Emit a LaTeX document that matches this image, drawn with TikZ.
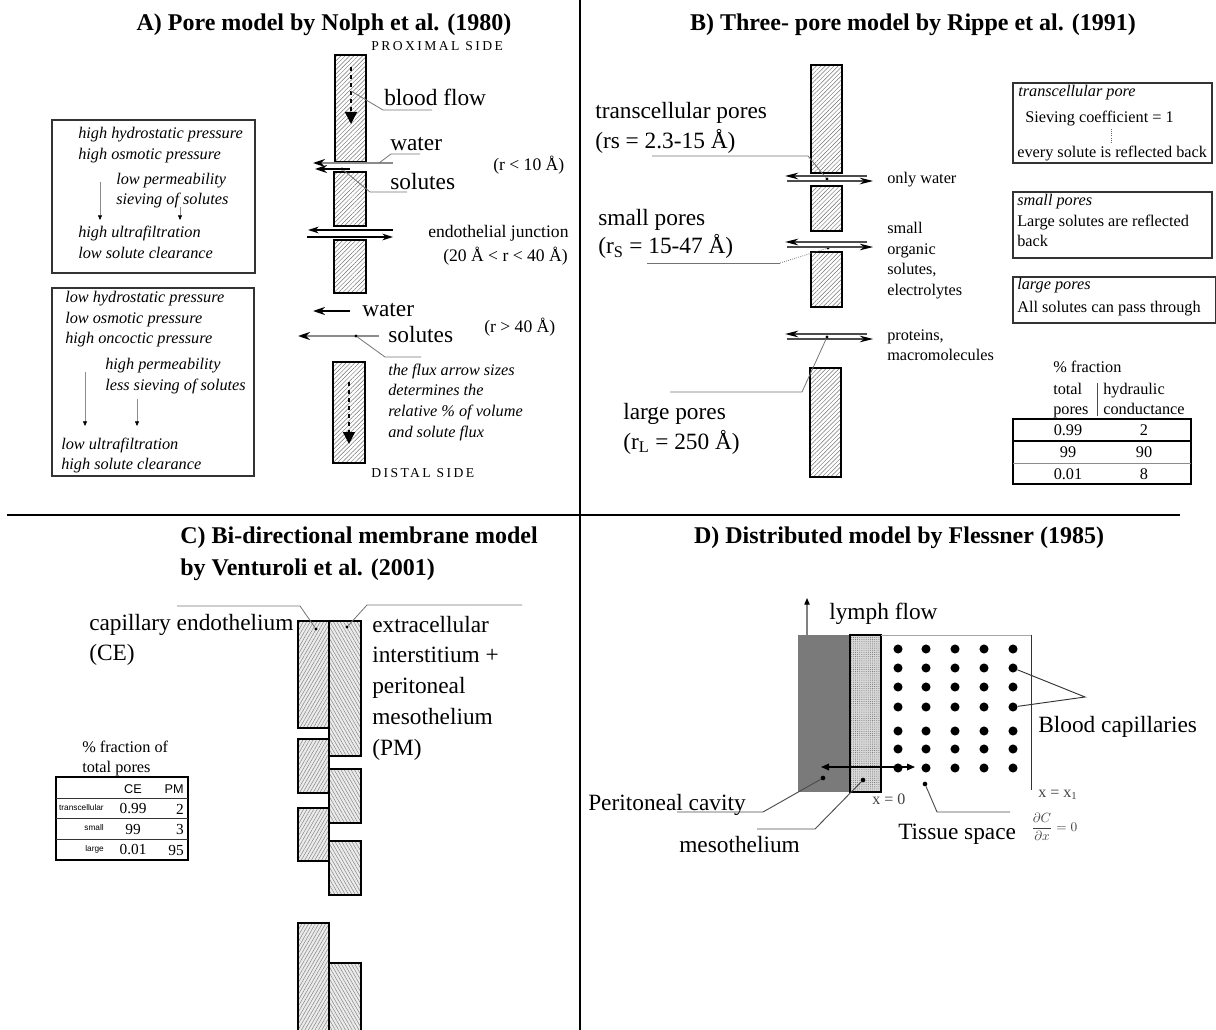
\documentclass[tikz,border=0pt]{standalone}
\usepackage{fontspec}
\setmainfont{Liberation Serif}
\setsansfont{Liberation Sans}
\usetikzlibrary{patterns,patterns.meta,arrows.meta}
\begin{document}
\begin{tikzpicture}[x=0.75pt,y=-0.75pt,
  ttl/.style={font=\fontsize{18}{21}\selectfont\bfseries, inner sep=0pt},
  lbl/.style={font=\fontsize{17.5}{20}\selectfont, inner sep=0pt},
  sml/.style={font=\fontsize{13.2}{15}\selectfont, inner sep=0pt},
  itl/.style={font=\fontsize{12.2}{14}\selectfont\itshape, inner sep=0pt},
  side/.style={font=\fontsize{12.2}{14}\selectfont, inner sep=0pt},
  caps/.style={font=\fontsize{10.2}{12}\selectfont\addfontfeature{LetterSpace=18}, inner sep=0pt},
  tinys/.style={font=\sffamily\fontsize{6.2}{7}\selectfont, inner sep=0pt},
  tabs/.style={font=\sffamily\fontsize{9.5}{11}\selectfont, inner sep=0pt},
  tabn/.style={font=\fontsize{11.5}{13}\selectfont, inner sep=0pt},
  hatch/.style={draw=black, line width=1pt, preaction={fill=white}, pattern={Lines[angle=45,distance=2.3pt,line width=0.35pt]}, pattern color=black!55},
  hatchce/.style={draw=black, line width=1pt, preaction={fill=black!8}, pattern={Lines[angle=60,distance=2.2pt,line width=0.35pt]}, pattern color=black!50},
  hatchpm/.style={draw=black, line width=1pt, preaction={fill=black!8}, pattern={Lines[angle=120,distance=2.2pt,line width=0.35pt]}, pattern color=black!50},
  flux/.style={draw=black!45, line width=1.3pt, -{Stealth[length=9pt,width=6pt,color=black]}},
  fluxk/.style={draw=black, line width=1.1pt, -{Stealth[length=9pt,width=6pt]}},
  jarr/.style={draw=black, line width=1pt, -{Stealth[length=8pt,width=5pt]}},
  barr/.style={draw=black!70, line width=0.9pt, -{Stealth[length=10pt,width=5pt,color=black]}},
  ldr/.style={draw=black!55, line width=0.6pt},
  garr/.style={draw=black!45, line width=0.5pt, -{Triangle[length=3.5pt,width=3pt,color=black]}},
  dotm/.style={circle, fill=black, inner sep=0pt, minimum size=2.6pt},
  capd/.style={circle, fill=black, inner sep=0pt, minimum size=6.8pt},
  boxl/.style={draw=black!80, line width=0.8pt},
  flowarr/.style={draw=black, line width=1pt, dashed, -{Triangle[length=9pt,width=9pt]}}
]
\useasboundingbox (0,0) rectangle (1216,1030);

% dividers
\draw[line width=1.3pt] (580,0) -- (580,1030);
\draw[line width=2.2pt] (7,515) -- (1180,515);

% ================= Panel A =================
\node[ttl, anchor=base] (tA) at (324,31) {A) Pore model by Nolph et al. (1980)};
\node[caps, anchor=base west] (prox) at (371,51) {PROXIMAL SIDE};
\draw[hatch] (335,55) rectangle (366,162);
\draw[hatch] (334,172) rectangle (366,226);
\draw[hatch] (334,240) rectangle (366,293);
\draw[hatch] (333,362) rectangle (365,463);
\coordinate (bf1) at (351,67); \coordinate (bf2) at (351,124);
\draw[flowarr] (bf1) -- (bf2);
\coordinate (bf3) at (349,382); \coordinate (bf4) at (349,444);
\draw[flowarr] (bf3) -- (bf4);
\node[caps, anchor=base west] (dist) at (371,477) {DISTAL SIDE};

\node[lbl, anchor=base west] (blood) at (384,106) {blood flow};
\coordinate (bl0) at (351,91); \coordinate (bl1) at (383,110); \coordinate (bl2) at (432,110);
\draw[ldr] (bl0) -- (bl1) -- (bl2);

\node[lbl, anchor=base west] (water1) at (390,151) {water};
\coordinate (w1a) at (393,163); \coordinate (w1b) at (313,163);
\draw[flux] (w1a) -- (w1b);
\coordinate (wl0) at (379,163); \coordinate (wl1) at (391,154); \coordinate (wl2) at (420,154);
\draw[ldr] (wl0) -- (wl1) -- (wl2);
\coordinate (s1a) at (350,169); \coordinate (s1b) at (315,169);
\draw[fluxk] (s1a) -- (s1b);
\node[dotm] (s1d) at (342,169) {};
\node[lbl, anchor=base west] (sol1) at (390,190) {solutes};
\coordinate (sl1) at (370,192); \coordinate (sl2) at (407,192);
\draw[ldr] (s1d) -- (sl1) -- (sl2);
\node[sml, anchor=base west] (r10) at (493,171) {(r \textless{} 10 Å)};

\coordinate (ja1) at (393,230); \coordinate (ja2) at (308,230);
\coordinate (jb1) at (307,237); \coordinate (jb2) at (393,237);
\draw[jarr] (ja1) -- (ja2);
\draw[jarr] (jb1) -- (jb2);
\node[sml, anchor=base west] (ej) at (428,238) {endothelial junction};
\node[sml, anchor=base west] (r2040) at (443,262) {(20 Å \textless{} r \textless{} 40 Å)};

\node[lbl, anchor=base west] (water2) at (362,316) {water};
\coordinate (w2a) at (350,311); \coordinate (w2b) at (313,311);
\draw[fluxk] (w2a) -- (w2b);
\node[lbl, anchor=base west] (sol2) at (388,342) {solutes};
\coordinate (s2a) at (379,336); \coordinate (s2b) at (298,336);
\draw[flux] (s2a) -- (s2b);
\node[dotm] (s2d) at (356,336) {};
\coordinate (s2l1) at (385,357); \coordinate (s2l2) at (421,357);
\draw[ldr] (s2d) -- (s2l1) -- (s2l2);
\node[sml, anchor=base west] (r40) at (484,333) {(r \textgreater{} 40 Å)};
\node[itl, anchor=base west] (fx1) at (388,375) {the flux arrow sizes};
\node[itl, anchor=base west] (fx2) at (388,395) {determines the};
\node[itl, anchor=base west] (fx3) at (388,416) {relative \% of volume};
\node[itl, anchor=base west] (fx4) at (388,437) {and solute flux};

% left boxes
\draw[boxl] (52,120) rectangle (255,273);
\node[itl, anchor=base west] (a1) at (78,139) {high hydrostatic pressure};
\node[itl, anchor=base west] (a2) at (78,160) {high osmotic pressure};
\node[itl, anchor=base west] (a3) at (116,185) {low permeability};
\node[itl, anchor=base west] (a4) at (116,205) {sieving of solutes};
\node[itl, anchor=base west] (a5) at (78,238) {high ultrafiltration};
\node[itl, anchor=base west] (a6) at (78,259) {low solute clearance};
\coordinate (aa1) at (100,182); \coordinate (aa2) at (100,220);
\coordinate (ab1) at (180,207); \coordinate (ab2) at (180,220);
\draw[garr] (aa1) -- (aa2);
\draw[garr] (ab1) -- (ab2);

\draw[boxl] (52,288) rectangle (254,476);
\node[itl, anchor=base west] (b1) at (65,303) {low hydrostatic pressure};
\node[itl, anchor=base west] (b2) at (65,324) {low osmotic pressure};
\node[itl, anchor=base west] (b3) at (65,344) {high oncoctic pressure};
\node[itl, anchor=base west] (b4) at (105,369) {high permeability};
\node[itl, anchor=base west] (b5) at (105,390) {less sieving of solutes};
\node[itl, anchor=base west] (b6) at (61,449) {low ultrafiltration};
\node[itl, anchor=base west] (b7) at (61,469) {high solute clearance};
\coordinate (ba1) at (85,372); \coordinate (ba2) at (85,426);
\coordinate (bb1) at (137,399); \coordinate (bb2) at (137,426);
\draw[garr] (ba1) -- (ba2);
\draw[garr] (bb1) -- (bb2);

% ================= Panel B =================
\node[ttl, anchor=base] (tB) at (913,31) {B) Three- pore model by Rippe et al. (1991)};
\draw[hatch] (811,65) rectangle (842,173);
\draw[hatch] (811,186) rectangle (842,231);
\draw[hatch] (811,252) rectangle (842,307);
\draw[hatch] (810,368) rectangle (841,477);

\node[lbl, anchor=base west] (tcp) at (595,119) {transcellular pores};
\node[lbl, anchor=base west] (tcr) at (595,149) {(rs = 2.3-15 Å)};
\node[dotm] (td) at (827,179) {};
\coordinate (tl1) at (652,156); \coordinate (tl2) at (808,156);
\draw[ldr] (tl1) -- (tl2) -- (td);
\coordinate (ta1) at (867,176); \coordinate (ta2) at (785,176);
\coordinate (tb1) at (787,181); \coordinate (tb2) at (873,181);
\draw[barr] (ta1) -- (ta2);
\draw[barr] (tb1) -- (tb2);
\node[side, anchor=base west] (ow) at (887,184) {only water};

\node[lbl, anchor=base west] (spp) at (598,226) {small pores};
\node[lbl, anchor=base west] (spr) at (598,254) {(r\textsubscript{S} = 15-47 Å)};
\node[dotm] (sd) at (828,248) {};
\coordinate (sl1b) at (647,263); \coordinate (sl2b) at (780,263);
\draw[ldr] (sl1b) -- (sl2b);
\draw[ldr, densely dotted] (sl2b) -- (sd);
\coordinate (sa1) at (867,242); \coordinate (sa2) at (785,242);
\coordinate (sb1) at (787,247); \coordinate (sb2) at (873,247);
\draw[barr] (sa1) -- (sa2);
\draw[barr] (sb1) -- (sb2);
\node[side, anchor=base west] (so1) at (887,234) {small};
\node[side, anchor=base west] (so2) at (887,255) {organic};
\node[side, anchor=base west] (so3) at (887,275) {solutes,};
\node[side, anchor=base west] (so4) at (887,296) {electrolytes};

\coordinate (la1) at (867,334); \coordinate (la2) at (785,334);
\coordinate (lb1) at (787,339); \coordinate (lb2) at (873,339);
\draw[barr] (la1) -- (la2);
\draw[barr] (lb1) -- (lb2);
\node[dotm] (ld) at (827,337) {};
\coordinate (ll1) at (802,392); \coordinate (ll2) at (670,392);
\draw[ldr] (ld) -- (ll1) -- (ll2);
\node[side, anchor=base west] (pr1) at (887,340) {proteins,};
\node[side, anchor=base west] (pr2) at (887,360) {macromolecules};
\node[lbl, anchor=base west] (lpp) at (623,419) {large pores};
\node[lbl, anchor=base west] (lpr) at (623,449) {(r\textsubscript{L} = 250 Å)};

% right boxes
\draw[boxl] (1013,83) rectangle (1212,163);
\node[itl, anchor=base west] (rb1a) at (1018,97) {transcellular pore};
\node[side, anchor=base west] (rb1b) at (1025,123) {Sieving coefficient = 1};
\coordinate (rbd1) at (1111,129); \coordinate (rbd2) at (1111,143);
\draw[black!60, densely dotted, line width=0.6pt] (rbd1) -- (rbd2);
\node[side, anchor=base west] (rb1c) at (1017,158) {every solute is reflected back};
\draw[boxl] (1013,192) rectangle (1212,258);
\node[itl, anchor=base west] (rb2a) at (1017,206) {small pores};
\node[side, anchor=base west] (rb2b) at (1017,227) {Large solutes are reflected};
\node[side, anchor=base west] (rb2c) at (1017,247) {back};
\draw[boxl] (1013,277) rectangle (1216,323);
\node[itl, anchor=base west] (rb3a) at (1017,290) {large pores};
\node[side, anchor=base west] (rb3b) at (1017,313) {All solutes can pass through};

% table B
\node[side, anchor=base west] (tf) at (1053,372) {\% fraction};
\node[side, anchor=base west] (tt1) at (1053,394) {total};
\node[side, anchor=base west] (tt2) at (1053,414) {pores};
\node[side, anchor=base west] (th1) at (1103,394) {hydraulic};
\node[side, anchor=base west] (th2) at (1103,414) {conductance};
\coordinate (tv1) at (1097,383); \coordinate (tv2) at (1097,416);
\draw[black!70, line width=0.6pt] (tv1) -- (tv2);
\draw[black, line width=0.9pt] (1013,419) rectangle (1191,484);
\draw[black, line width=0.8pt] (1013,441) -- (1191,441);
\draw[black!45, line width=0.6pt] (1013,463) -- (1191,463);
\node[side] (v11) at (1068,430) {0.99};
\node[side] (v12) at (1144,430) {2};
\node[side] (v21) at (1068,452) {99};
\node[side] (v22) at (1144,452) {90};
\node[side] (v31) at (1068,474) {0.01};
\node[side] (v32) at (1144,474) {8};

% ================= Panel C =================
\node[ttl, anchor=base west] (tC1) at (180,543) {C) Bi-directional membrane model};
\node[ttl, anchor=base west] (tC2) at (180,575) {by Venturoli et al. (2001)};
\draw[hatchce] (298,621) rectangle (329,728);
\draw[hatchce] (298,739) rectangle (329,793);
\draw[hatchce] (298,808) rectangle (329,861);
\draw[hatchce] (298,923) rectangle (329,1032);
\draw[hatchpm] (329,621) rectangle (361,756);
\draw[hatchpm] (329,769) rectangle (361,823);
\draw[hatchpm] (329,841) rectangle (361,895);
\draw[hatchpm] (329,963) rectangle (361,1032);
\node[dotm] (ced) at (316,629) {};
\node[dotm] (pmd) at (347,627) {};
\coordinate (cl1) at (177,606); \coordinate (cl2) at (300,606);
\draw[ldr] (cl1) -- (cl2) -- (ced);
\coordinate (pl1) at (367,605); \coordinate (pl2) at (522,605);
\draw[ldr] (pmd) -- (pl1) -- (pl2);
\node[lbl, anchor=base west] (ce1) at (89,630) {capillary endothelium};
\node[lbl, anchor=base west] (ce2) at (89,660) {(CE)};
\node[lbl, anchor=base west] (pm1) at (372,632) {extracellular};
\node[lbl, anchor=base west] (pm2) at (372,662) {interstitium +};
\node[lbl, anchor=base west] (pm3) at (372,693) {peritoneal};
\node[lbl, anchor=base west] (pm4) at (372,724) {mesothelium};
\node[lbl, anchor=base west] (pm5) at (372,755) {(PM)};

% table C
\node[side, anchor=base west] (cf1) at (82,752) {\% fraction of};
\node[side, anchor=base west] (cf2) at (82,772) {total pores};
\draw[black, line width=0.8pt] (56,777) rectangle (188,860);
\draw[black!80, line width=0.6pt] (56,798) -- (188,798);
\draw[black!80, line width=0.6pt] (56,818) -- (188,818);
\draw[black!80, line width=0.6pt] (56,839) -- (188,839);
\node[tabs] (hce) at (133,789) {CE};
\node[tabs, anchor=east] (hpm) at (184,789) {PM};
\node[tinys, anchor=east] (rtc) at (104,808) {transcellular};
\node[tinys, anchor=east] (rsm) at (104,828) {small};
\node[tinys, anchor=east] (rlg) at (104,849) {large};
\node[tabn] (c11) at (133,809) {0.99};
\node[tabn, anchor=east] (c12) at (184,809) {2};
\node[tabn] (c21) at (133,829) {99};
\node[tabn, anchor=east] (c22) at (184,829) {3};
\node[tabn] (c31) at (133,850) {0.01};
\node[tabn, anchor=east] (c32) at (184,850) {95};

% ================= Panel D =================
\node[ttl, anchor=base] (tD) at (899,543) {D) Distributed model by Flessner (1985)};
\node[lbl, anchor=base west] (lymph) at (829,619) {lymph flow};
\coordinate (ly1) at (807,642); \coordinate (ly2) at (807,598);
\draw[draw=black!50, line width=0.8pt, -{Triangle[length=5pt,width=4pt,color=black]}] (ly1) -- (ly2);
\fill[black!52] (798,635) rectangle (850,792);
\draw[black, line width=1pt, preaction={fill=black!15}, pattern={Dots[distance=1.6pt,radius=0.35pt]}, pattern color=black!60] (850,635) rectangle (881,792);
\coordinate (fr1) at (881,635); \coordinate (fr2) at (1031,635); \coordinate (fr3) at (1031,790);
\draw[black!35, line width=0.6pt] (fr1) -- (fr2);
\draw[black!80, line width=0.7pt] (fr2) -- (fr3);
\foreach \c [count=\i] in {898,926,955,984,1013}{
  \foreach \r [count=\j] in {649,668,687,707,731,749,768}{
    \node[capd] (c\i-\j) at (\c,\r) {};
  }
}
\coordinate (da1) at (821,767); \coordinate (da2) at (915,767);
\draw[black, line width=0.9pt, {Triangle[length=6pt,width=5pt]}-{Triangle[length=6pt,width=5pt]}] (da1) -- (da2);
\node[dotm, minimum size=3.5pt] (pcd) at (823,778) {};
\node[dotm, minimum size=3.5pt] (msd) at (863,780) {};
\node[dotm, minimum size=3.5pt] (tsd) at (925,784) {};
\node[lbl, anchor=base west] (pc) at (588,810) {Peritoneal cavity};
\coordinate (pcl1) at (763,812); \coordinate (pcl2) at (677,812);
\draw[black!70, line width=0.7pt] (pcd) -- (pcl1) -- (pcl2);
\node[lbl, anchor=base west] (meso) at (679,852) {mesothelium};
\coordinate (msl1) at (815,829); \coordinate (msl2) at (757,829);
\draw[black!70, line width=0.7pt] (msd) -- (msl1) -- (msl2);
\node[lbl, anchor=base west] (ts) at (898,839) {Tissue space};
\coordinate (tsl1) at (937,812); \coordinate (tsl2) at (1010,812);
\draw[black!70, line width=0.7pt] (tsd) -- (tsl1) -- (tsl2);
\node[inner sep=0pt, anchor=west, text=black!75, font=\fontsize{10}{12}\selectfont] (dcdx) at (1031,827) {$\displaystyle\frac{\partial C}{\partial x}=0$};
\node[anchor=base west, inner sep=0pt, text=black!75, font=\fontsize{12}{14}\selectfont] (xx1) at (1038,797) {x = x\textsubscript{1}};
\node[anchor=base west, inner sep=0pt, text=black!75, font=\fontsize{12}{14}\selectfont] (x0) at (872,804) {x = 0};
\node[lbl, anchor=base west] (bcap) at (1038,732) {Blood capillaries};
\coordinate (bcj) at (1085,697);
\draw[black!80, line width=0.7pt] (c5-2) -- (bcj) -- (c5-4);
\end{tikzpicture}
\end{document}
